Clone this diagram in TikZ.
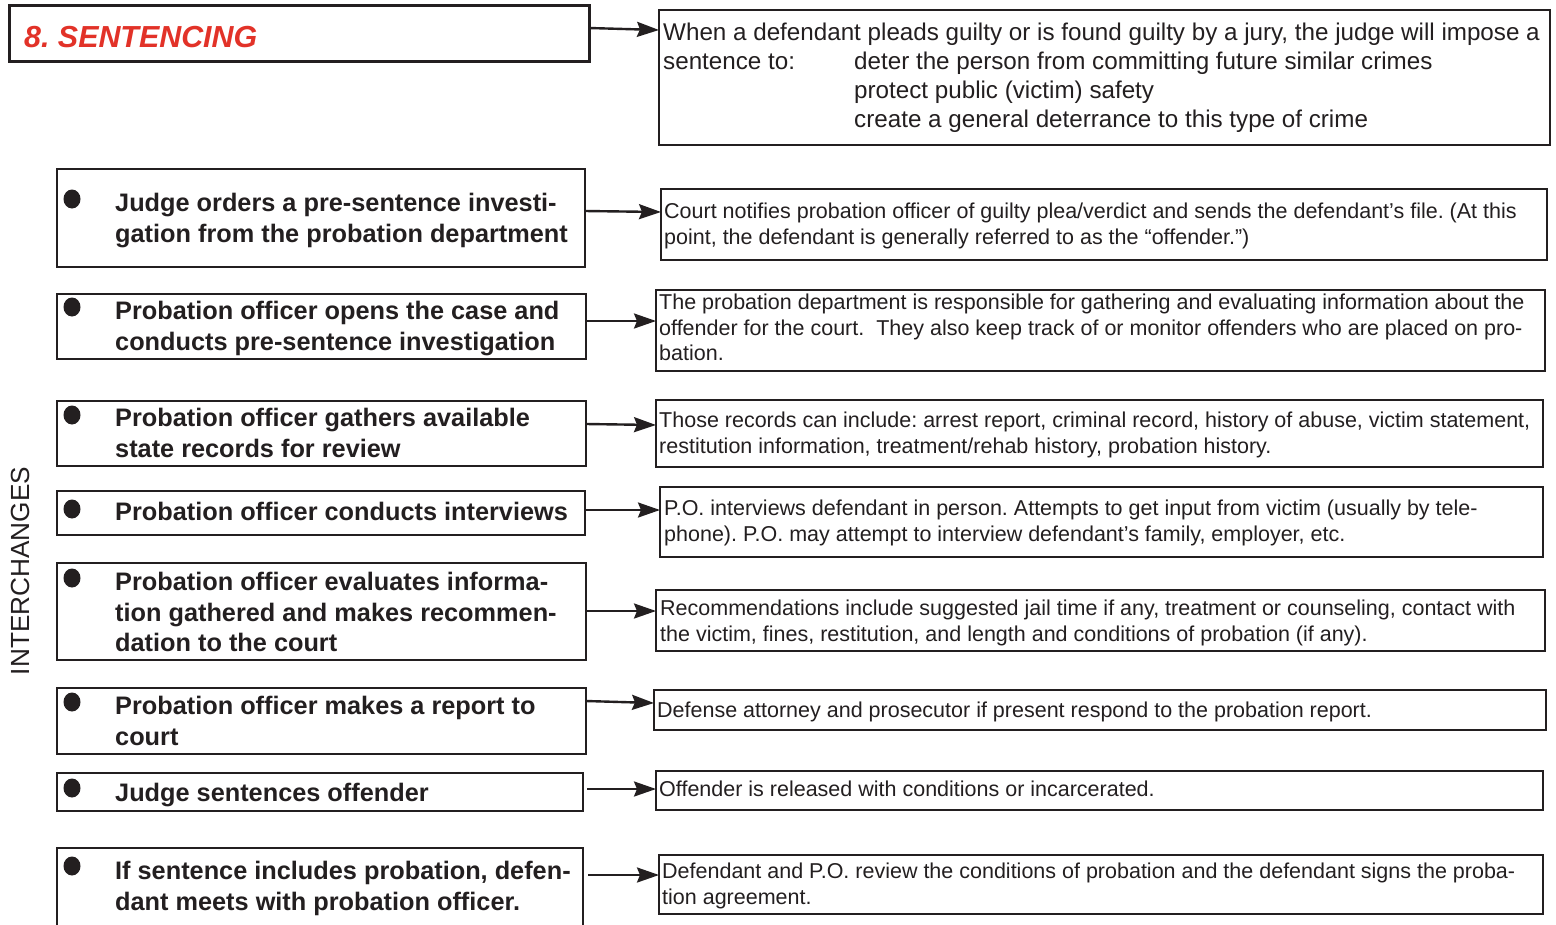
\documentclass[tikz,border=0pt]{standalone}
\usepackage{fontspec}
\setmainfont{Liberation Sans}
\usetikzlibrary{arrows.meta,shapes.geometric}
\definecolor{ink}{RGB}{35,31,32}
\definecolor{titlered}{RGB}{226,50,40}
\frenchspacing
\begin{document}
\begin{tikzpicture}[x=1pt,y=-1pt,
  box/.style={draw=ink, line width=1.4pt, inner sep=0, outer sep=0},
  titlebox/.style={draw=ink, line width=3pt, inner sep=0, outer sep=0},
  bul/.style={ellipse, fill=ink, minimum width=17pt, minimum height=19pt, inner sep=0},
  ltext/.style={anchor=north west, inner sep=0, align=left, text=ink, font=\frenchspacing\fontsize{25.3}{30.5}\selectfont\bfseries},
  rtext/.style={anchor=north west, inner sep=0, align=left, text=ink, font=\frenchspacing\fontsize{21.5}{25.5}\selectfont},
  ttext/.style={anchor=north west, inner sep=0, align=left, text=ink, font=\frenchspacing\fontsize{24.2}{29}\selectfont},
  arr/.style={draw=ink, line width=2.4pt, -{Stealth[length=22pt,width=15pt,inset=3pt]}},
]
\useasboundingbox (0,0) rectangle (1556,924);
\fill[white] (0,0) rectangle (1556,924);

% title
\node[titlebox, minimum width=580pt, minimum height=56pt] (title) at (299,33) {};
\node[anchor=base west, inner sep=0, text=titlered, font=\fontsize{30.4}{34}\selectfont\bfseries\itshape] (titletext) at (24,47) {8. SENTENCING};

\node[box, minimum width=891pt, minimum height=135pt] (r0) at (1104.5,77.5) {};
\node[ttext] (t0) at (663,19.7) {\strut When a defendant pleads guilty or is found guilty by a jury, the judge will impose a\\
\makebox[191pt][l]{sentence to:}deter the person from committing future similar crimes\\
\hspace*{191pt}protect public (victim) safety\\
\hspace*{191pt}create a general deterrance to this type of crime};

% side label
\node[rotate=90, inner sep=0, text=ink, font=\fontsize{26.2}{30}\selectfont] (side) at (20,571) {INTERCHANGES};

% left boxes
\node[box, minimum width=528pt, minimum height=98pt] (l1) at (321,218) {};
\node[box, minimum width=529pt, minimum height=65pt] (l2) at (321.5,326.5) {};
\node[box, minimum width=529pt, minimum height=65pt] (l3) at (321.5,433.5) {};
\node[box, minimum width=528pt, minimum height=44pt] (l4) at (321,513) {};
\node[box, minimum width=529pt, minimum height=97pt] (l5) at (321.5,611.5) {};
\node[box, minimum width=529pt, minimum height=66pt] (l6) at (321.5,721) {};
\node[box, minimum width=526pt, minimum height=38pt] (l7) at (320,792) {};
\node[box, minimum width=526pt, minimum height=87pt] (l8) at (320,891.5) {};

\node[bul] (b1) at (72,199) {};
\node[bul] (b2) at (72,307) {};
\node[bul] (b3) at (72,415) {};
\node[bul] (b4) at (72,509) {};
\node[bul] (b5) at (72,578) {};
\node[bul] (b6) at (72,702) {};
\node[bul] (b7) at (72,788) {};
\node[bul] (b8) at (72,866) {};

\node[ltext] (lt1) at (115,190.15) {\strut Judge orders a pre-sentence investi-\\gation from the probation department};
\node[ltext] (lt2) at (115,298.15) {\strut Probation officer opens the case and\\conducts pre-sentence investigation};
\node[ltext] (lt3) at (115,405.15) {\strut Probation officer gathers available\\state records for review};
\node[ltext] (lt4) at (115,499.15) {\strut Probation officer conducts interviews};
\node[ltext] (lt5) at (115,569.15) {\strut Probation officer evaluates informa-\\tion gathered and makes recommen-\\dation to the court};
\node[ltext] (lt6) at (115,693.15) {\strut Probation officer makes a report to\\court};
\node[ltext] (lt7) at (115,780.15) {\strut Judge sentences offender};
\node[ltext] (lt8) at (115,858.15) {\strut If sentence includes probation, defen-\\dant meets with probation officer.};

% right boxes
\node[box, line width=1.2pt, minimum width=886pt, minimum height=71pt] (r1) at (1104,224.5) {};
\node[box, line width=1.2pt, minimum width=889pt, minimum height=81pt] (r2) at (1100.5,330.5) {};
\node[box, line width=1.2pt, minimum width=887pt, minimum height=67pt] (r3) at (1099.5,433.5) {};
\node[box, line width=1.2pt, minimum width=883pt, minimum height=70pt] (r4) at (1101.5,522) {};
\node[box, line width=1.2pt, minimum width=889pt, minimum height=61pt] (r5) at (1100.5,620.5) {};
\node[box, line width=1.2pt, minimum width=892pt, minimum height=40pt] (r6) at (1100,710) {};
\node[box, line width=1.2pt, minimum width=887pt, minimum height=39pt] (r7) at (1099.5,790.5) {};
\node[box, line width=1.2pt, minimum width=884pt, minimum height=59pt] (r8) at (1101,884.5) {};

\node[rtext] (rt1) at (664,200.65) {\strut Court notifies probation officer of guilty plea/verdict and sends the defendant’s file. (At this\\point, the defendant is generally referred to as the “offender.”)};
\node[rtext] (rt2) at (659,291.65) {\strut The probation department is responsible for gathering and evaluating information about the\\offender for the court.\ \ They also keep track of or monitor offenders who are placed on pro-\\bation.};
\node[rtext] (rt3) at (659,409.65) {\strut Those records can include: arrest report, criminal record, history of abuse, victim statement,\\restitution information, treatment/rehab history, probation history.};
\node[rtext] (rt4) at (664,497.65) {\strut P.O. interviews defendant in person. Attempts to get input from victim (usually by tele-\\phone). P.O. may attempt to interview defendant’s family, employer, etc.};
\node[rtext] (rt5) at (660,597.65) {\strut Recommendations include suggested jail time if any, treatment or counseling, contact with\\the victim, fines, restitution, and length and conditions of probation (if any).};
\node[rtext] (rt6) at (657,699.65) {\strut Defense attorney and prosecutor if present respond to the probation report.};
\node[rtext] (rt7) at (659,778.65) {\strut Offender is released with conditions or incarcerated.};
\node[rtext] (rt8) at (662,860.65) {\strut Defendant and P.O. review the conditions of probation and the defendant signs the proba-\\tion agreement.};

% connectors
\draw[arr] ([yshift=5pt]title.east) -- ([yshift=47.5pt]r0.west);
\draw[arr] ([yshift=7pt]l1.east) -- ([yshift=12.5pt]r1.west);
\draw[arr] ([yshift=5.5pt]l2.east) -- ([yshift=9.5pt]r2.west);
\draw[arr] ([yshift=9.5pt]l3.east) -- ([yshift=8.5pt]r3.west);
\draw[arr] ([yshift=3pt]l4.east) -- ([yshift=12pt]r4.west);
\draw[arr] ([yshift=0.5pt]l5.east) -- ([yshift=9.5pt]r5.west);
\draw[arr] ([yshift=20pt]l6.east) -- ([yshift=7pt]r6.west);
\draw[arr] ([yshift=3pt,xshift=4pt]l7.east) -- ([yshift=1.5pt]r7.west);
\draw[arr] ([yshift=16.5pt,xshift=5pt]l8.east) -- ([yshift=9.5pt]r8.west);
\end{tikzpicture}
\end{document}
